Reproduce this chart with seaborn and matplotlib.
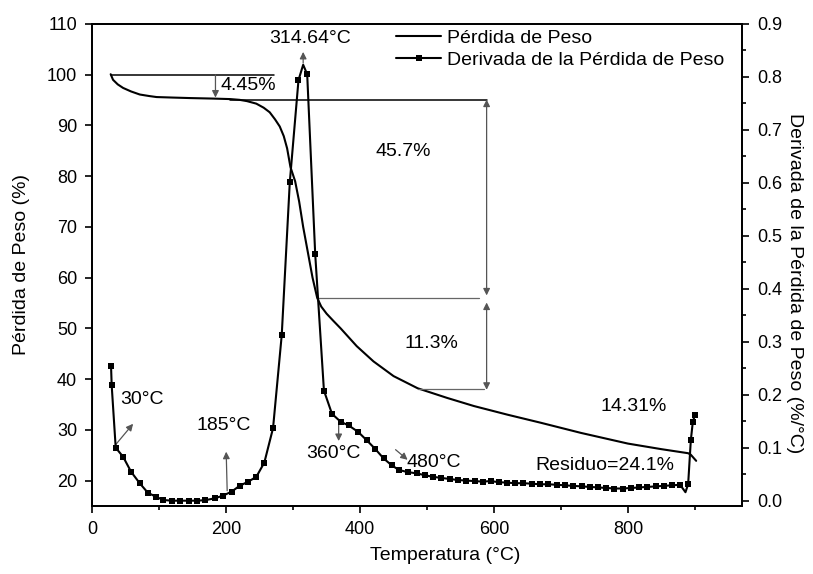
import numpy as np
import pandas as pd
import seaborn as sns
import matplotlib
import matplotlib.pyplot as plt
from matplotlib.lines import Line2D
from matplotlib.ticker import MultipleLocator

matplotlib.use('Agg')

# TGA curve: weight loss (%) vs temperature (°C)
temp_tga = [27.5, 31, 38, 46, 58, 71, 85, 96, 120, 146, 180, 206, 220, 231, 245, 256,
            265, 273, 280, 286, 291, 296, 303, 309, 315, 322, 329, 336, 342, 350, 360,
            371, 395, 420, 450, 486, 530, 570, 620, 670, 730, 800, 850, 890, 894,
            898, 902]
peso = [100.1, 99.0, 98.1, 97.4, 96.7, 96.1, 95.8, 95.6, 95.5, 95.4, 95.3, 95.2,
        95.05, 94.8, 94.3, 93.5, 92.6, 91.2, 89.8, 87.9, 85.5, 81.8, 79.0, 75.0,
        70.0, 65.0, 60.0, 56.0, 54.3, 52.9, 51.5, 50.0, 46.5, 43.5, 40.6, 38.2, 36.3,
        34.7, 33.0, 31.4, 29.4, 27.3, 26.2, 25.4, 25.1, 24.5, 23.9]

# DTG curve: derivative of weight loss (%/°C)
temp_dtg = [28, 29, 35, 46, 58, 71, 83, 95, 106, 119, 131, 144, 156, 169, 183, 195,
            208, 220, 233, 245, 257, 270, 283, 295, 308, 315, 321, 333, 346, 358,
            371, 383, 397, 410, 422, 435, 447, 458, 471, 485, 497, 509, 521, 534,
            546, 558, 571, 583, 595, 607, 620, 632, 644, 657, 669, 681, 694, 706,
            718, 731, 743, 755, 768, 780, 792, 805, 817, 829, 842, 854, 866, 878,
            886, 890, 894, 897, 900]
dtg = [0.255, 0.2175, 0.100, 0.083, 0.0545, 0.0327, 0.015, 0.0075, 0.0013, 0.0,
       0.0, 0.0, 0.0, 0.001, 0.0045, 0.0094, 0.017, 0.028, 0.036, 0.045, 0.072,
       0.137, 0.313, 0.601, 0.794, 0.823, 0.805, 0.465, 0.208, 0.164, 0.149,
       0.142, 0.130, 0.114, 0.0985, 0.080, 0.067, 0.058, 0.054, 0.0515, 0.048,
       0.045, 0.043, 0.041, 0.039, 0.038, 0.037, 0.036, 0.037, 0.035, 0.034,
       0.033, 0.033, 0.032, 0.031, 0.031, 0.030, 0.029, 0.028, 0.027, 0.026,
       0.025, 0.024, 0.023, 0.023, 0.024, 0.025, 0.026, 0.027, 0.028, 0.029,
       0.030, 0.016, 0.031, 0.114, 0.149, 0.161]
# points of the DTG line that carry no marker (peak and dip)
sin_marcador = [315, 886]

df_tga = pd.DataFrame({'Temperatura': temp_tga, 'Peso': peso})
df_dtg = pd.DataFrame({'Temperatura': temp_dtg, 'DTG': dtg})
marcas = [i for i, t in enumerate(temp_dtg) if t not in sin_marcador]

sns.set_style('ticks')
plt.rcParams['font.family'] = ['Liberation Sans', 'DejaVu Sans']
plt.rcParams['font.size'] = 14
plt.rcParams['text.color'] = 'black'
plt.rcParams['axes.labelcolor'] = 'black'
plt.rcParams['xtick.color'] = 'black'
plt.rcParams['ytick.color'] = 'black'

fig = plt.figure(figsize=(8.13, 5.74), dpi=100)
ax = fig.add_axes([0.1135, 0.1185, 0.7988, 0.8397])
ax2 = ax.twinx()

sns.lineplot(data=df_tga, x='Temperatura', y='Peso', ax=ax, color='black',
             linewidth=1.5, sort=False)
sns.lineplot(data=df_dtg, x='Temperatura', y='DTG', ax=ax2, color='black',
             linewidth=1.5, sort=False, marker='s', markersize=4.5,
             markevery=marcas, markeredgewidth=0)

ax.set_xlim(0, 970)
ax.set_ylim(15, 110)
ax2.set_ylim(-0.01, 0.9)
ax.xaxis.set_major_locator(MultipleLocator(200))
ax.xaxis.set_minor_locator(MultipleLocator(100))
ax.yaxis.set_major_locator(MultipleLocator(10))
ax2.yaxis.set_major_locator(MultipleLocator(0.1))
ax2.yaxis.set_minor_locator(MultipleLocator(0.05))
ax2.yaxis.set_major_formatter(matplotlib.ticker.FormatStrFormatter('%.1f'))

ax.set_xlabel('Temperatura (°C)', fontsize=14, labelpad=5)
ax.xaxis.set_label_coords(0.543, -0.085)
ax.set_ylabel('Pérdida de Peso (%)', fontsize=14, labelpad=12)
ax2.set_ylabel('Derivada de la Pérdida de Peso (%/°C)', fontsize=14,
               rotation=270, labelpad=18)
ax2.yaxis.set_label_coords(1.095, 0.463)

for a in (ax, ax2):
    a.tick_params(which='major', direction='out', length=5, width=1.2, labelsize=13,
                  color='black', labelcolor='black', pad=6)
    a.tick_params(which='minor', direction='out', length=3, width=1.2, color='black')
    for s in a.spines.values():
        s.set_linewidth(1.3)
        s.set_color('black')
ax.tick_params(axis='y', which='minor', left=False)

# reference lines
ax.plot([27.5, 272], [100, 100], color='black', linewidth=1.1)
ax.plot([206, 589], [95.1, 95.1], color='black', linewidth=1.1)
ax.plot([336, 577], [56.0, 56.0], color='#666666', linewidth=0.9)
ax.plot([486, 585], [38.1, 38.1], color='#666666', linewidth=0.9)

gris = dict(color='#555555', lw=0.9, shrinkA=0, shrinkB=0, mutation_scale=10)
ax.annotate('', xy=(184, 95.5), xytext=(184, 100), arrowprops=dict(arrowstyle='-|>', **gris))
ax.annotate('', xy=(589, 95.1), xytext=(589, 56.5), arrowprops=dict(arrowstyle='<|-|>', **gris))
ax.annotate('', xy=(589, 55.1), xytext=(589, 37.9), arrowprops=dict(arrowstyle='<|-|>', **gris))
ax.annotate('', xy=(315, 104.5), xytext=(315, 102.3), arrowprops=dict(arrowstyle='-|>', **gris))
ax.annotate('', xy=(61, 31.2), xytext=(35, 27.1), arrowprops=dict(arrowstyle='-|>', **gris))
ax.annotate('', xy=(200, 25.7), xytext=(201.5, 18.0), arrowprops=dict(arrowstyle='-|>', **gris))
ax.annotate('', xy=(368, 27.8), xytext=(368, 32.0), arrowprops=dict(arrowstyle='-|>', **gris))
ax.annotate('', xy=(471, 24.1), xytext=(453, 26.1), arrowprops=dict(arrowstyle='-|>', **gris))

ax.text(191, 97.8, '4.45%', ha='left', va='center')
ax.text(465, 84.9, '45.7%', ha='center', va='center')
ax.text(506, 47.1, '11.3%', ha='center', va='center')
ax.text(809, 34.7, '14.31%', ha='center', va='center')
ax.text(765, 22.9, 'Residuo=24.1%', ha='center', va='center')
ax.text(326, 107.1, '314.64°C', ha='center', va='center')
ax.text(74.5, 35.9, '30°C', ha='center', va='center')
ax.text(196, 30.8, '185°C', ha='center', va='center')
ax.text(360, 25.3, '360°C', ha='center', va='center')
ax.text(510, 23.5, '480°C', ha='center', va='center')

handles = [Line2D([], [], color='black', linewidth=1.5),
           Line2D([], [], color='black', linewidth=1.5, marker='s', markersize=4.5,
                  markeredgewidth=0)]
ax2.legend(handles, ['Pérdida de Peso', 'Derivada de la Pérdida de Peso'],
           loc='upper left', bbox_to_anchor=(0.441, 1.025), frameon=False,
           fontsize=14, handlelength=2.3, handletextpad=0.3, labelspacing=0.2)

fig.savefig('out.png', dpi=100)
